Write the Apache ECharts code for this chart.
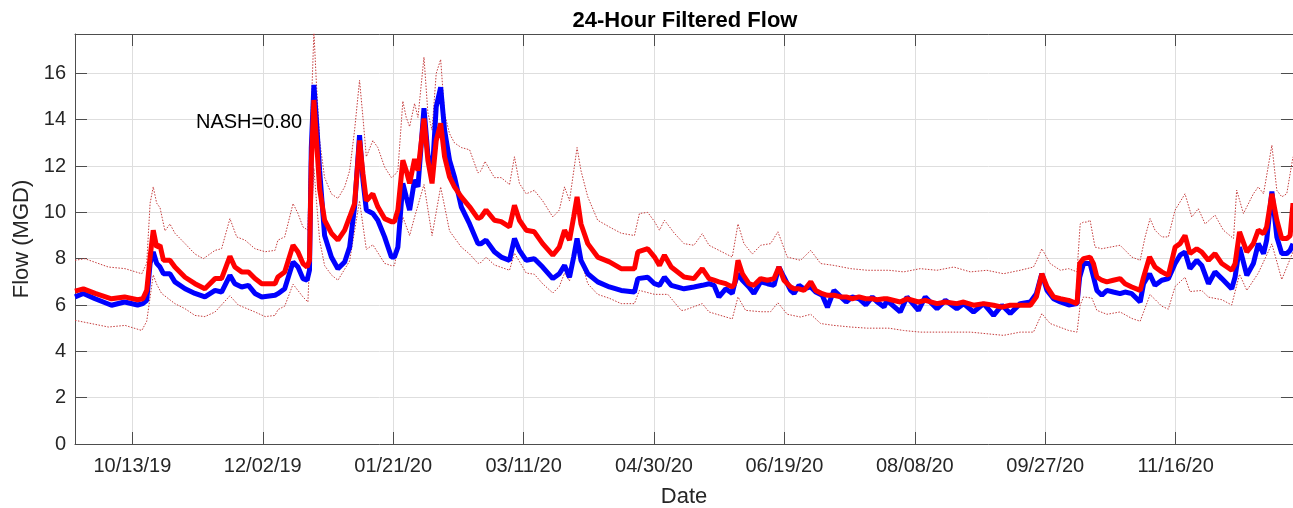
<!DOCTYPE html>
<html><head><meta charset="utf-8">
<script src="https://cdn.jsdelivr.net/npm/echarts@6/dist/echarts.min.js"></script>
<style>html,body{margin:0;padding:0;background:#fff}#c{width:1293px;height:508px}</style>
</head><body><div id="c"></div>
<script>
// x values are days counted from the first day shown
const startDate = [2019, 9, 21];
const endDay = 467;
const tickLabels = ['10/13/19','12/02/19','01/21/20','03/11/20','04/30/20','06/19/20','08/08/20','09/27/20','11/16/20'];
const yMax = 17.7;
const yStep = 2;

const flowDays = [
  0,3.2,7.7,14,19,24,26,27.5,28.8,30,31.3,32.6,33.9,36.4,38.3,42.2,46,49.8,53.7,56.2,59.4,61.3,63.9,66.5,69,71.6,76.7,
  77.8,80.4,83.6,85.5,87.4,89.0,89.9,90.6,91.6,92.5,93.8,95.7,98.3,100.8,103.4,105.3,107.2,109.1,110.4,111.7,114.2,116.1,118.7,121.3,122.5,123.8,125.7,127,128.3,130.2,131.5,133.8,135.3,136.9,138.5,140.2,141.7,143.6,145.5,148.1,151.3,154.5,
  155.7,157.6,160.8,163.4,166.6,168.5,170.4,173,176.1,179.3,183.2,185.7,187.7,189.6,191.2,192.5,194.0,196.6,200.4,204.9,209.4,214.5,215.8,219.6,222.2,224.1,226.0,228.6,
  233.5,237.3,240.5,243.1,245,246.9,249.5,252,252.9,254.2,255.9,258.4,260.3,262.9,265.5,268,269.9,271.8,274.4,275.7,277.6,279.5,282.1,284,286.5,288.5,291,293.6,295.7,298,300.6,303.2,305.7,307.6,310.2,
  311.3,316.4,319,323.4,326,330.5,333.7,338.1,340.7,344.5,348.4,352.2,355.4,358.6,362.4,366.3,368.6,370.7,372.7,375.2,377.8,381,384.2,385.2,386.7,
  389.2,390.5,391.8,393.7,395.6,398.1,400.7,402.6,405.2,408.4,409.7,412,414.1,416.7,419.2,421.8,423.7,425.6,427.5,430.1,432,434.6,437.1,439.7,443.5,444.8,446.5,449.3,451.8,453.7,455.7,456.9,458.9,460.8,462.7,464.6,465.9,467
];
// observed flow (blue)
const observedFlow = [
  6.35,6.5,6.27,5.99,6.13,6.0,6.06,6.2,7.8,8.29,7.8,7.64,7.35,7.35,7.0,6.7,6.5,6.35,6.63,6.56,7.28,6.92,6.78,6.85,6.5,6.35,6.42,
  6.49,6.7,7.86,7.64,7.14,7.07,7.5,12.8,15.5,14.1,11.8,9.0,8.07,7.57,7.86,8.5,10.24,13.33,11.39,10.1,9.95,9.66,8.94,8.07,8.07,8.5,11.25,10.67,10.1,11.4,11.1,14.5,12.5,11.53,14.56,15.4,13.55,12.25,11.53,10.24,9.5,8.65,
  8.65,8.8,8.3,8.07,7.93,8.87,8.36,7.93,8.0,7.64,7.14,7.35,7.71,7.2,8.07,8.87,7.93,7.35,7.0,6.78,6.63,6.56,7.14,7.2,6.92,6.85,7.2,6.85,
  6.7,6.78,6.85,6.92,6.85,6.35,6.7,6.5,6.92,7.35,7.07,6.78,6.5,7.0,6.92,6.85,7.64,7.21,6.63,6.5,6.85,6.7,6.78,6.56,6.42,5.9,6.63,6.35,6.13,6.35,6.27,6.0,6.35,6.13,5.92,
  6.2,5.7,6.35,5.77,6.35,5.84,6.2,5.84,6.06,5.7,6.06,5.55,5.99,5.63,6.06,6.13,6.49,7.35,6.63,6.27,6.13,6.0,6.06,7.2,7.79,
  7.79,7.21,6.63,6.42,6.63,6.56,6.49,6.56,6.49,6.13,6.92,7.35,6.85,7.07,7.14,7.79,8.15,8.29,7.57,7.93,7.71,6.92,7.43,7.14,6.7,7.21,8.5,7.28,7.79,8.65,8.22,8.8,10.9,8.94,8.22,8.22,8.36,8.65
];
// modelled flow (red)
const modelFlow = [
  6.6,6.7,6.5,6.27,6.35,6.23,6.27,6.63,8.07,9.23,8.5,8.58,7.93,7.93,7.64,7.2,6.92,6.7,7.14,7.14,8.1,7.64,7.43,7.43,7.14,6.92,6.92,
  7.21,7.43,8.58,8.29,7.79,7.64,7.93,12.1,14.85,13.26,11.0,9.66,9.1,8.8,9.23,9.8,10.38,13.1,11.68,10.5,10.8,10.24,9.73,9.6,9.6,10.1,12.25,11.8,11.25,12.3,11.8,14.05,12.25,11.25,13.1,13.84,12.4,11.53,11.1,10.67,10.24,9.73,
  9.8,10.1,9.66,9.6,9.37,10.3,9.66,9.23,9.16,8.65,8.15,8.5,9.23,8.8,9.8,10.67,9.5,8.65,8.07,7.86,7.57,7.57,8.29,8.43,8.07,7.71,8.15,7.64,
  7.21,7.14,7.57,7.14,7.07,7.0,6.92,6.78,6.92,7.93,7.35,6.92,6.85,7.14,7.07,7.14,7.64,7.07,6.78,6.7,6.7,6.63,7.0,6.63,6.49,6.42,6.42,6.35,6.35,6.27,6.35,6.27,6.27,6.23,6.27,
  6.27,6.13,6.27,6.13,6.2,6.06,6.13,6.06,6.13,5.99,6.06,5.99,5.91,5.99,5.99,5.99,6.35,7.35,6.78,6.35,6.27,6.2,6.06,7.79,8.0,
  8.07,7.79,7.21,7.07,7.0,7.07,7.14,6.92,6.78,6.63,7.2,8.07,7.64,7.43,7.28,8.5,8.65,9.0,8.22,8.43,8.29,7.93,8.22,7.79,7.5,7.79,9.16,8.29,8.65,9.23,9.08,9.37,10.8,9.66,8.87,8.87,9.0,10.4
];
// upper band (dotted)
const upperDays = [
  0,3.8,12.8,19.2,25.6,27.5,28.8,30,31.3,32.6,34.5,36.4,38.3,42.2,46,49.2,53.7,56.2,59.4,62,65.2,69,72.9,76.7,
  77.8,80.4,83.6,85.5,87.4,89.3,90.6,91.6,92.5,93.8,95.7,98.3,100.8,103.4,105.3,107.2,109.1,110.4,111.7,114.2,116.1,118.7,121.3,122.5,123.8,125.7,127,128.3,130.2,131.5,133.8,135.3,136.9,138.5,140.2,141.7,143.6,145.5,148.1,151.3,154.5,
  155.7,157.2,160.8,163.4,166.6,168.5,170.4,173,176.1,179.3,183.2,185.7,187.7,189.6,192.5,194,196.6,200.4,204.9,209.4,214.5,216.4,219.6,222.2,224.1,226,229.8,
  233.5,237.3,240.5,243.1,246.9,252,254.2,256.5,259.7,262.9,266.7,269.5,273.1,278.2,282.1,285.9,291,297.4,303.8,312.1,
  317.7,324.1,330.5,336.9,343.3,349.6,356,362.4,367.5,368.8,370.7,373.9,377.8,381,384.2,385.4,386.7,388,
  389.2,391.1,393.7,400.7,405.2,408.4,410.3,412.2,414.1,416.7,419.2,421.8,425.6,428.2,430.7,433.3,437.1,440.3,444.2,445.4,448,451.8,453.7,455.7,458.9,460.8,462.7,464.6,467
];
const upperFlow = [
  7.93,8.0,7.64,7.57,7.35,7.8,10.4,11.1,10.4,10.2,9.2,9.5,9.1,8.65,8.2,8.0,8.36,8.43,9.73,8.94,8.8,8.43,8.3,8.36,
  8.8,8.94,10.38,9.95,9.37,9.23,14.5,17.8,15.7,13.1,11.5,10.8,10.6,11.1,11.8,13.55,15.7,14.1,12.4,13.1,12.8,11.96,11.5,11.6,11.8,14.8,14.1,13.7,14.7,14.1,16.7,14.3,13.55,16.0,16.6,14.27,13.4,13.0,12.8,12.7,11.7,
  11.8,12.2,11.5,11.5,11.2,12.4,11.25,10.8,10.95,10.5,9.8,10.1,11.1,10.5,12.8,11.8,10.67,9.66,9.37,9.1,9.0,9.95,10.0,9.6,9.23,9.66,9.1,
  8.65,8.58,9.08,8.58,8.36,8.07,9.5,8.65,8.2,8.58,8.65,9.16,8.07,7.93,8.36,7.79,7.71,7.57,7.5,7.5,
  7.43,7.57,7.5,7.64,7.43,7.5,7.35,7.5,7.64,7.93,8.43,7.79,7.5,7.57,7.43,9.5,9.58,9.58,
  9.66,8.5,8.43,8.58,8.07,7.93,8.94,9.73,9.23,8.94,8.94,10.1,10.8,9.8,10.16,9.5,9.88,9.23,8.87,10.96,9.95,10.8,11.1,10.8,12.9,10.95,10.67,10.8,12.4
];
// lower band (dotted)
const lowerDays = [
  0,12.8,19.2,25.6,27.5,30,31.3,33.2,38.3,42.2,46,49.8,53.7,59.4,62.6,69,72.9,76.7,
  77.8,80.4,83.6,87.4,89.3,90.6,91.6,92.5,93.8,95.7,98.3,100.8,105.3,109.1,111.7,114.2,118.7,121.3,122.5,125.7,128.3,130.2,133.8,136.9,140.2,143.6,148.1,151.3,154.5,
  155.7,157.6,160.8,166.6,168.5,173,176.1,179.3,183.2,185.7,187.7,189.6,192.5,196.6,200.4,204.9,209.4,214.5,216.4,222.2,227.3,232.4,
  233.5,240.5,243.1,252,254.2,257.1,262.9,266.7,269.5,273.1,278.2,282.1,285.9,291,297.4,303.8,312.1,
  317.7,324.1,336.9,343.3,349.6,356,362.4,367.5,370.7,373.9,381,384.2,385.4,386.7,389.9,
  391.8,395.6,400.7,405.2,408.4,412.2,416.7,419.2,421.8,425.6,427.5,432,434.6,439.7,443.5,446.5,449.3,453.7,458.9,462.7,467
];
const lowerFlow = [
  5.34,5.05,5.12,4.9,5.3,7.3,6.9,6.5,6.06,5.84,5.55,5.5,5.7,6.4,6.0,5.7,5.5,5.55,
  5.8,5.95,6.9,6.35,6.13,9.7,11.9,10.6,8.8,7.7,7.3,7.07,7.9,10.5,8.4,8.6,7.8,7.7,7.7,9.8,9.0,9.8,11.2,9.0,11.1,9.2,8.5,8.2,7.8,
  7.84,8.07,7.73,7.5,8.24,7.38,7.33,6.92,6.52,6.8,7.38,7.04,8.54,6.92,6.46,6.29,6.06,6.06,6.63,6.46,6.46,5.77,
  5.77,6.06,5.7,5.4,6.35,5.77,5.71,5.71,6.1,5.6,5.48,5.6,5.2,5.12,5.05,5.0,5.0,
  4.9,4.83,4.83,4.83,4.76,4.69,4.83,4.83,5.63,5.2,4.9,4.83,6.0,6.35,6.3,
  5.77,5.6,5.7,5.42,5.3,6.45,5.95,5.82,6.8,7.2,6.58,6.63,6.34,6.23,6.0,7.33,6.63,7.38,8.64,7.1,8.3
];

const FONT = '"Liberation Sans", Arial, Helvetica, sans-serif';
const t0 = Date.UTC(startDate[0], startDate[1] - 1, startDate[2]);
const tickDays = tickLabels.map(s => {
  const p = s.split('/').map(Number);
  return Math.round((Date.UTC(2000 + p[2], p[0] - 1, p[1]) - t0) / 86400000);
});
const labelFor = v => {
  const i = tickDays.findIndex(d => Math.abs(d - v) < 0.01);
  return i >= 0 ? tickLabels[i] : '';
};
const pairs = (xs, ys) => xs.map((x, i) => [x, ys[i]]);

const axisColor = '#4d4d4d';
const bandStyle = {color: '#c43c3c', width: 1, type: [1.5, 1.5]};
const chart = echarts.init(document.getElementById('c'), null, {renderer: 'canvas'});
chart.setOption({
  animation: false,
  backgroundColor: '#ffffff',
  grid: {left: 75, right: 0, top: 34, bottom: 64, containLabel: false, outerBoundsMode: 'none'},
  xAxis: [{
    type: 'value', min: 0, max: endDay, position: 'bottom',
    axisLine: {show: true, onZero: false, lineStyle: {color: axisColor, width: 1}},
    axisTick: {show: true, inside: true, length: 12, customValues: tickDays, lineStyle: {color: axisColor}},
    axisLabel: {show: true, customValues: tickDays, formatter: labelFor, fontSize: 20, color: '#262626', margin: 12, fontFamily: FONT},
    splitLine: {show: true, lineStyle: {color: '#dedede', width: 1}},
    name: 'Date', nameLocation: 'middle', nameGap: 42,
    nameTextStyle: {fontSize: 22, color: '#262626', fontFamily: FONT}
  }, {
    type: 'value', min: 0, max: endDay, position: 'top',
    axisLine: {show: true, onZero: false, lineStyle: {color: axisColor, width: 1}},
    axisTick: {show: true, inside: true, length: 12, customValues: tickDays, lineStyle: {color: axisColor}},
    axisLabel: {show: false},
    splitLine: {show: false}
  }],
  yAxis: [{
    type: 'value', min: 0, max: yMax, interval: yStep, position: 'left',
    axisLine: {show: true, onZero: false, lineStyle: {color: axisColor, width: 1}},
    axisTick: {show: true, inside: true, length: 12, lineStyle: {color: axisColor}},
    axisLabel: {fontSize: 20, color: '#262626', margin: 9, fontFamily: FONT,
      formatter: v => (Math.abs(v / yStep - Math.round(v / yStep)) < 1e-6 ? String(v) : '')},
    splitLine: {show: true, lineStyle: {color: '#dedede', width: 1}},
    name: 'Flow (MGD)', nameLocation: 'middle', nameGap: 34,
    nameTextStyle: {fontSize: 22, color: '#262626', fontFamily: FONT}
  }, {
    type: 'value', min: 0, max: yMax, interval: yStep, position: 'right',
    axisLine: {show: true, onZero: false, lineStyle: {color: axisColor, width: 1}},
    axisTick: {show: true, inside: true, length: 12, lineStyle: {color: axisColor}},
    axisLabel: {show: false},
    splitLine: {show: false}
  }],
  graphic: [
    {type: 'text', z: 100, style: {text: '24-Hour Filtered Flow', x: 685, y: 21, textAlign: 'center', textVerticalAlign: 'middle', font: 'bold 22px ' + FONT, fill: '#000', lineWidth: 0}},
    {type: 'text', z: 100, style: {text: 'NASH=0.80', x: 196, y: 122, textAlign: 'left', textVerticalAlign: 'middle', font: '20px ' + FONT, fill: '#000', lineWidth: 0}}
  ],
  series: [
    {type: 'line', name: 'Upper', data: pairs(upperDays, upperFlow), symbol: 'none', silent: true, z: 2, lineStyle: bandStyle},
    {type: 'line', name: 'Lower', data: pairs(lowerDays, lowerFlow), symbol: 'none', silent: true, z: 2, lineStyle: bandStyle},
    {type: 'line', name: 'Observed', data: pairs(flowDays, observedFlow), symbol: 'none', silent: true, z: 3,
      lineStyle: {color: '#0000ff', width: 5}},
    {type: 'line', name: 'Model', data: pairs(flowDays, modelFlow), symbol: 'none', silent: true, z: 4,
      lineStyle: {color: '#ff0000', width: 5}}
  ]
});
</script>
</body></html>
